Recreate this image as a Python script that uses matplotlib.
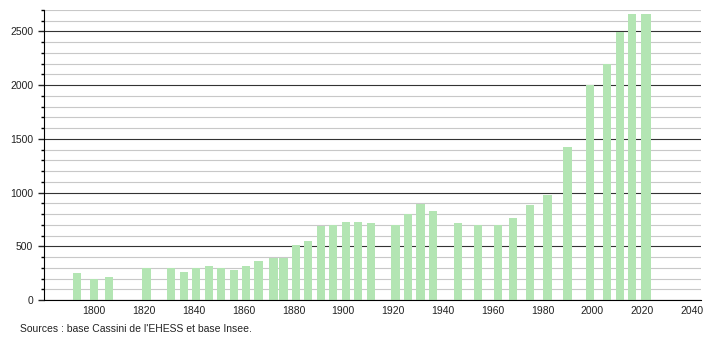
import matplotlib.pyplot as plt
from matplotlib.ticker import MultipleLocator

plt.rcParams['font.family'] = ['Liberation Sans', 'DejaVu Sans']

years = [1793, 1800, 1806, 1821, 1831, 1836, 1841, 1846, 1851, 1856,
         1861, 1866, 1872, 1876, 1881, 1886, 1891, 1896, 1901, 1906,
         1911, 1921, 1926, 1931, 1936, 1946, 1954, 1962, 1968, 1975,
         1982, 1990, 1999, 2006, 2011, 2016, 2021, 2022]
population = [255, 193, 218, 299, 297, 261, 297, 320, 296, 280,
              317, 364, 389, 392, 513, 550, 693, 695, 728, 728,
              718, 700, 802, 893, 830, 718, 700, 700, 765, 880,
              979, 1427, 2003, 2199, 2497, 2659, 2665, 2665]

source = "Sources : base Cassini de l'EHESS et base Insee."

fig = plt.figure(figsize=(7.1, 3.4), dpi=100)
ax = fig.add_axes([0.0624, 0.1176, 0.9246, 0.853])

ax.bar(years, population, width=3.3, color='#b3e5b3', zorder=2)

ax.set_xlim(1780, 2043.5)
ax.set_ylim(0, 2700)
ax.set_xticks(range(1800, 2041, 20))
ax.yaxis.set_major_locator(MultipleLocator(500))
ax.yaxis.set_minor_locator(MultipleLocator(100))

# dark lines every 500, light ones every 100, behind the bars
ax.grid(axis='y', which='major', color='#333333', linewidth=0.8, zorder=0)
ax.grid(axis='y', which='minor', color='#c8c8c8', linewidth=0.8, zorder=0)
ax.set_axisbelow(True)

for side in ['top', 'right']:
    ax.spines[side].set_visible(False)

ax.tick_params(axis='x', length=0, pad=4, labelsize=7.5, colors='#222222')
ax.tick_params(axis='y', which='major', length=4, width=1, pad=4, labelsize=7.5, colors='#222222')
ax.tick_params(axis='y', which='minor', length=2.5, width=1)

fig.text(0.028, 0.032, source, fontsize=7.5, color='#222222', ha='left', va='center')

fig.savefig('out.png', dpi=100)
